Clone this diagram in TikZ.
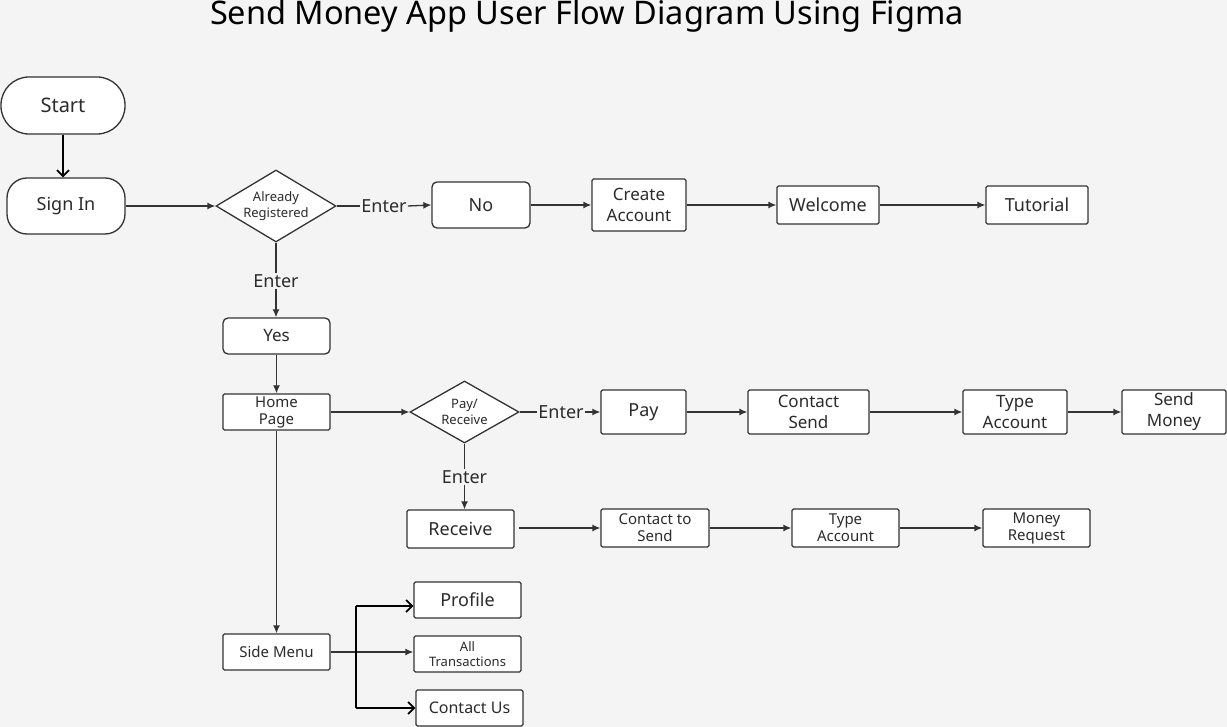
\documentclass[tikz,border=0pt]{standalone}
\usepackage{fontspec}
\setmainfont{Noto Sans}
\usetikzlibrary{shapes.geometric,arrows.meta}
\definecolor{bg}{HTML}{F4F4F4}
\definecolor{linec}{HTML}{333333}
\definecolor{txt}{HTML}{2B2B2B}
\tikzset{
  box/.style={draw=linec, fill=white, line width=1.3pt, rounded corners=1.5pt, inner sep=0pt, align=center, text=txt},
  dia/.style={draw=linec, fill=white, line width=1.3pt, diamond, inner sep=0pt},
  lbl/.style={inner sep=1pt, text=txt, font=\fontsize{18}{20}\selectfont},
  arr/.style={draw=linec, line width=1.3pt, -{Latex[length=8pt,width=7pt]}},
  ln/.style={draw=linec, line width=1.3pt},
  oarr/.style={draw=black, line width=1.8pt, -{Straight Barb[length=6pt,width=12pt,line width=1.8pt]}},
  oln/.style={draw=black, line width=1.8pt},
}
\begin{document}
\begin{tikzpicture}[x=1pt,y=-1pt]
\fill[bg] (0,0) rectangle (1227,727);
\useasboundingbox (0,0) rectangle (1227,727);

\node[text=black, anchor=base, inner sep=0pt, font=\fontsize{32.5}{38}\selectfont] (title) at (587,25) {Send Money App User Flow Diagram Using Figma};

% top row
\node[box, rounded corners=28pt, minimum width=124pt, minimum height=57pt, font=\fontsize{20}{24}\selectfont] (start) at (63,105.5) {Start};
\node[box, rounded corners=20pt, minimum width=118pt, minimum height=56pt, font=\fontsize{18}{22}\selectfont] (signin) at (66,206) {Sign In};
\node[dia, minimum width=120pt, minimum height=72pt] (reg) at (276,206) {};
\node[text=txt, align=center, font=\fontsize{13}{16}\selectfont] (regt) at (276,206) {Already\\Registered};
\node[lbl] (e1) at (384,206) {Enter};
\node[box, rounded corners=5pt, minimum width=98pt, minimum height=46pt, font=\fontsize{18}{22}\selectfont] (no) at (481,205) {No};
\node[box, minimum width=94pt, minimum height=52pt, font=\fontsize{17}{21}\selectfont] (create) at (639,205) {Create\\Account};
\node[box, minimum width=102pt, minimum height=38pt, font=\fontsize{18}{22}\selectfont] (welcome) at (828,205) {Welcome};
\node[box, minimum width=102pt, minimum height=38pt, font=\fontsize{18}{22}\selectfont] (tut) at (1037,205) {Tutorial};

\draw[oarr] (start.south) -- (signin.north -| start.south);
\draw[arr] (signin.east) -- (reg.west);
\draw[ln] (reg.east) -- (e1.west);
\draw[arr] (e1.east) -- (no.west);
\draw[arr] (no.east) -- (create.west);
\draw[arr] (create.east) -- (welcome.west);
\draw[arr] (welcome.east) -- (tut.west);

% vertical
\node[lbl] (e2) at (276,281) {Enter};
\node[box, rounded corners=5pt, minimum width=107pt, minimum height=36pt, font=\fontsize{17}{21}\selectfont] (yes) at (276.5,336) {Yes};
\node[box, minimum width=107pt, minimum height=36pt, font=\fontsize{15}{17}\selectfont] (home) at (276.5,412) {Home\\Page};
\draw[ln] (reg.south) -- (e2.north);
\draw[arr] (e2.south) -- (yes.north -| e2.south);
\draw[arr] (yes.south) -- (home.north);

% pay row
\node[dia, minimum width=109pt, minimum height=62pt] (pr) at (464.5,412) {};
\node[text=txt, align=center, font=\fontsize{13}{16}\selectfont] (prt) at (464.5,412) {Pay/\\Receive};
\node[lbl] (e3) at (561,412) {Enter};
\node[box, minimum width=85pt, minimum height=44pt, font=\fontsize{18}{22}\selectfont] (pay) at (643.5,412) {Pay};
\node[box, minimum width=121pt, minimum height=44pt, font=\fontsize{17}{21}\selectfont] (csend) at (808.5,412) {Contact\\Send};
\node[box, minimum width=104pt, minimum height=44pt, font=\fontsize{17}{21}\selectfont] (type1) at (1015,412) {Type\\Account};
\node[box, minimum width=104pt, minimum height=44pt, font=\fontsize{17}{21}\selectfont] (smoney) at (1174,412) {Send\\Money};
\draw[arr] (home.east) -- (pr.west);
\draw[ln] (pr.east) -- (e3.west);
\draw[arr] (e3.east) -- (pay.west);
\draw[arr] (pay.east) -- (csend.west);
\draw[arr] (csend.east) -- (type1.west);
\draw[arr] (type1.east) -- (smoney.west);

% receive row
\node[lbl] (e4) at (464.5,477) {Enter};
\node[box, minimum width=107pt, minimum height=38pt, font=\fontsize{18}{22}\selectfont] (recv) at (460.5,529) {Receive};
\node[box, minimum width=108pt, minimum height=38pt, font=\fontsize{15}{17}\selectfont] (cts) at (655,528) {Contact to\\Send};
\node[box, minimum width=107pt, minimum height=38pt, font=\fontsize{15}{17}\selectfont] (type2) at (845.5,528) {Type\\Account};
\node[box, minimum width=107pt, minimum height=38pt, font=\fontsize{15}{17}\selectfont] (mreq) at (1036.5,528) {Money\\Request};
\coordinate (rs) at (519,528);
\draw[ln] (pr.south) -- (e4.north);
\draw[arr] (e4.south) -- (recv.north -| e4.south);
\draw[arr] (rs) -- (cts.west);
\draw[arr] (cts.east) -- (type2.west);
\draw[arr] (type2.east) -- (mreq.west);

% side menu
\node[box, minimum width=107pt, minimum height=36pt, font=\fontsize{15}{18}\selectfont] (side) at (276.5,652) {Side Menu};
\node[box, minimum width=107pt, minimum height=36pt, font=\fontsize{18}{22}\selectfont] (prof) at (467.5,600) {Profile};
\node[box, minimum width=107pt, minimum height=36pt, font=\fontsize{13}{15}\selectfont] (allt) at (467.5,654) {All\\Transactions};
\node[box, minimum width=107pt, minimum height=36pt, font=\fontsize{16}{19}\selectfont] (cu) at (469.5,708) {Contact Us};
\draw[arr] (home.south) -- (side.north);
\draw[arr] (side.east) -- (side.east -| allt.west);
\coordinate (b1) at (356,606);
\coordinate (b2) at (356,708);
\draw[oln] (b1) -- (b2);
\draw[oarr] (b1) -- (b1 -| prof.west);
\draw[oarr] (b2) -- (cu.west);
\end{tikzpicture}
\end{document}
